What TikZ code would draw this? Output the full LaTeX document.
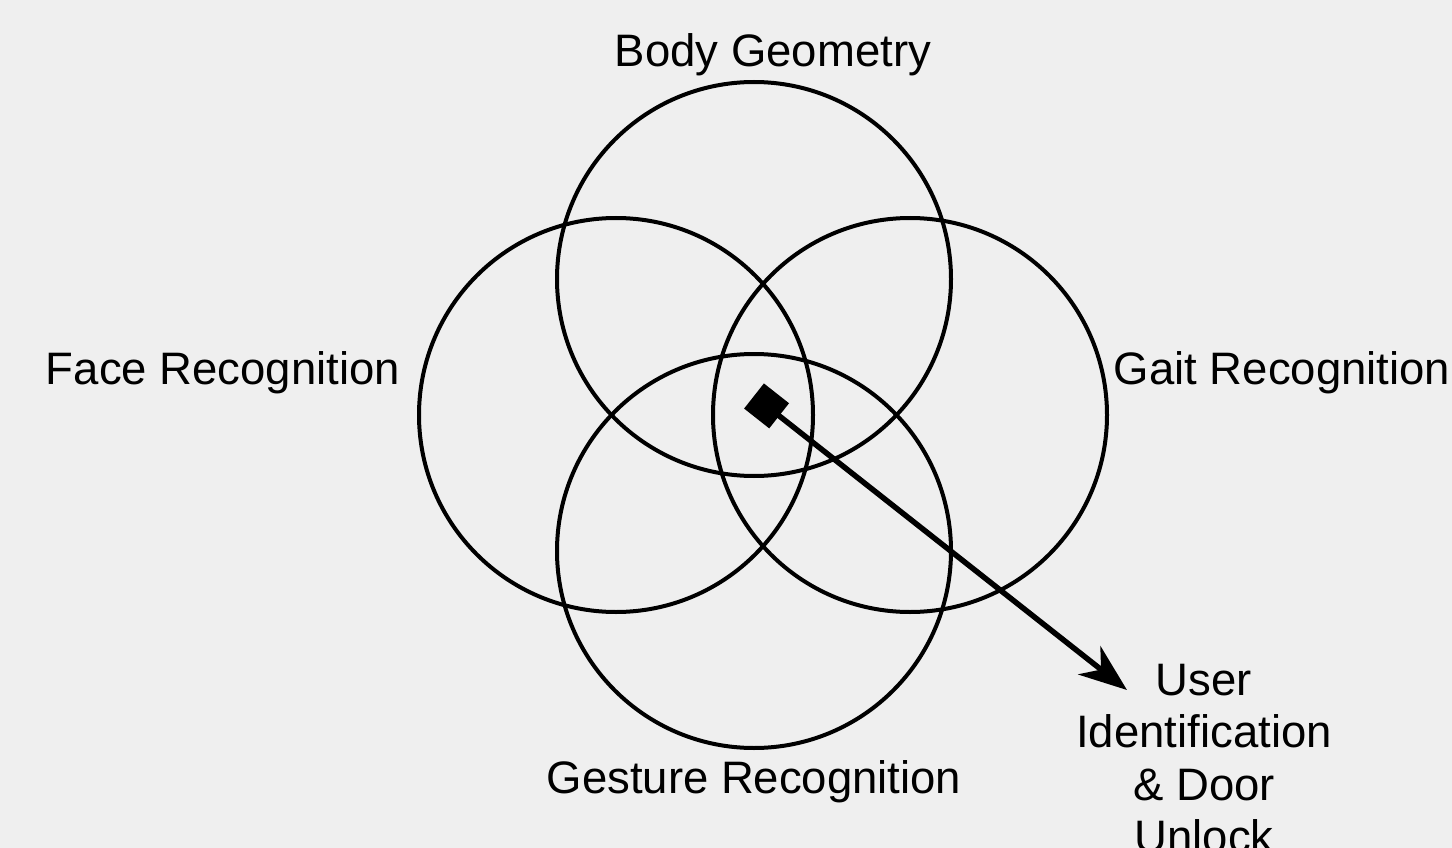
\documentclass[tikz,border=0pt]{standalone}
\usepackage{fontspec}
\setmainfont{Liberation Sans}
\usetikzlibrary{arrows.meta}
\definecolor{paper}{HTML}{EFEFEF}

\begin{document}
\begin{tikzpicture}[x=1pt,y=-1pt,
    every node/.style={font=\fontsize{45.5}{52.5}\selectfont, inner sep=0pt},
    ring/.style={draw, circle, minimum size=394pt, line width=4pt}]
                \fill[paper] (0,0) rectangle (1452,848);
                \useasboundingbox (0,0) rectangle (1452,848);

                \node[ring] (body) at (754,279) {};
                \node[ring] (face) at (616,415) {};
                \node[ring] (gait) at (910,415) {};
                \node[ring] (gest) at (754,551) {};

                \node[anchor=base] (lbody) at (773,67) {Body Geometry};
                \node[anchor=base] (lface) at (223,384) {Face Recognition};
                \node[anchor=base] (lgait) at (1282,384) {Gait Recognition};
                \node[anchor=base] (lgest) at (754,793) {Gesture Recognition};
                \node[anchor=base, align=center] (user) at (1204,852.5)
                    {User\\Identification\\\& Door\\Unlock};

                \coordinate (mid) at (754,396);
                \coordinate (end) at (1127,690);
                \draw[line width=5.5pt, {Square[length=32pt,width=32pt]}-{Stealth[length=48pt,width=36pt,inset=15pt]}]
                    (mid) -- (end);
            \end{tikzpicture}
\end{document}
